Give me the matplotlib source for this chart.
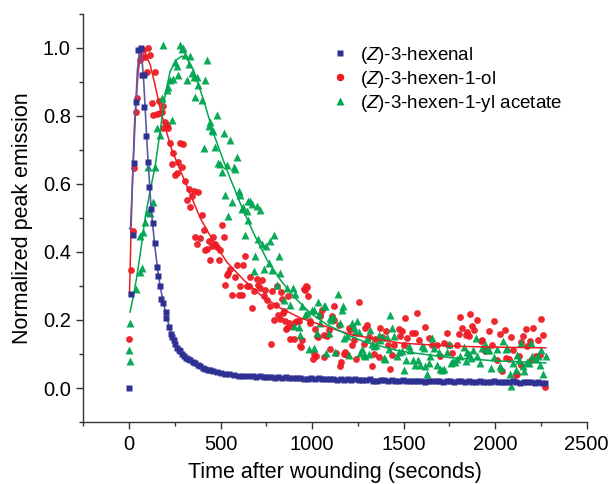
import matplotlib
matplotlib.use("Agg")
import matplotlib.pyplot as plt
from matplotlib.ticker import MultipleLocator
from matplotlib.lines import Line2D

plt.rcParams['font.family'] = ['Liberation Sans', 'DejaVu Sans']
plt.rcParams['mathtext.fontset'] = 'custom'
plt.rcParams['mathtext.it'] = 'Liberation Sans:italic'
plt.rcParams['mathtext.rm'] = 'Liberation Sans'

# ---------------- data ----------------
hex_t = [0, 11, 22, 27, 38, 51, 64, 69, 80, 84, 95, 106, 110, 120, 133, 144, 150, 160, 171, 177,
         188, 199, 204, 217, 228, 236, 243, 252, 263, 271, 279, 290, 300, 312, 323, 334, 347, 361,
         374, 388, 402, 416, 430, 443, 460, 480, 500, 525, 548, 571, 600, 625, 650,
         675, 695, 715, 735, 755, 775, 795, 815, 835, 855, 875, 895, 915, 935, 955, 975, 995,
         1015, 1035, 1055, 1075, 1095, 1115, 1135, 1155, 1175, 1195, 1215, 1235, 1255, 1275, 1295,
         1315, 1335, 1355, 1375, 1395, 1415, 1435, 1455, 1475, 1495, 1515, 1535, 1555, 1575, 1595,
         1615, 1635, 1655, 1675, 1695, 1715, 1735, 1755, 1775, 1795, 1815, 1835, 1855, 1875, 1895,
         1915, 1935, 1955, 1975, 1995, 2015, 2035, 2055, 2075, 2095, 2115, 2135, 2155, 2175, 2195,
         2215, 2235, 2255, 2270]
hex_y = [0.0, 0.276, 0.45, 0.66, 0.84, 0.993, 1.0, 0.92, 0.92, 0.825, 0.74, 0.665, 0.59, 0.525, 0.485,
         0.426, 0.355, 0.328, 0.30, 0.262, 0.25, 0.223, 0.206, 0.18, 0.158, 0.15, 0.142, 0.13, 0.118,
         0.112, 0.108, 0.10, 0.094, 0.089, 0.085, 0.083, 0.077, 0.072, 0.068, 0.064, 0.060, 0.057,
         0.054, 0.052, 0.049, 0.047, 0.045, 0.042, 0.040, 0.038, 0.036, 0.035, 0.035,
         0.034, 0.033, 0.035, 0.032, 0.031, 0.033, 0.030, 0.031, 0.029, 0.031, 0.029, 0.028, 0.030,
         0.029, 0.027, 0.026, 0.028, 0.026, 0.028, 0.026, 0.027, 0.025, 0.026, 0.024, 0.027, 0.024,
         0.025, 0.023, 0.026, 0.024, 0.023, 0.024, 0.026, 0.022, 0.022, 0.024, 0.023, 0.021, 0.023,
         0.022, 0.020, 0.023, 0.022, 0.020, 0.022, 0.021, 0.022, 0.019, 0.021, 0.022, 0.020, 0.021,
         0.019, 0.020, 0.022, 0.018, 0.020, 0.021, 0.019, 0.020, 0.018, 0.019, 0.021, 0.019, 0.017,
         0.019, 0.020, 0.018, 0.019, 0.017, 0.018, 0.020, 0.018, 0.016, 0.018, 0.019, 0.017, 0.016,
         0.018, 0.016, 0.015]

hex_fit_t = [3, 8, 30, 45, 58, 66, 80, 100, 120, 140, 160, 180, 200, 230, 260, 300, 350, 400,
             500, 600, 800, 1200, 1600, 2000, 2270]
hex_fit_y = [0.468, 0.47, 0.75, 0.93, 1.0, 1.0, 0.9, 0.7, 0.53, 0.42, 0.33, 0.27, 0.22, 0.16,
             0.12, 0.095, 0.075, 0.062, 0.045, 0.037, 0.031, 0.026, 0.022, 0.019, 0.017]

ol_t = [0, 11, 24, 27, 38, 46, 60, 69, 78, 87, 97, 106, 115, 124, 133, 142, 155, 166, 170, 179, 184,
        188, 197, 206, 215, 224, 233, 242, 252, 261, 270, 279, 288, 297, 306, 315, 325, 334, 343,
        352, 361, 370, 379, 388, 397, 407, 416, 425, 434, 443, 452, 461, 470, 480, 489, 498, 507,
        516, 525, 534, 543, 552, 562, 580, 589, 598, 607, 616, 625, 634, 644, 653, 662, 671, 680,
        698, 707, 717, 726, 735, 744, 753, 768, 775, 780, 793, 804, 808, 811, 822, 830, 835, 840,
        844, 853, 859, 862, 866, 871, 880, 890, 899, 908, 917, 926, 935, 941, 944, 957, 963, 968,
        972, 976, 987, 990, 1005, 1012, 1017, 1023, 1026, 1030, 1041, 1045, 1054, 1063, 1067,
        1081, 1090, 1099, 1108, 1118, 1121, 1132, 1145, 1151, 1160, 1172, 1182, 1190, 1200, 1209,
        1218, 1231, 1242, 1255, 1282, 1291, 1300, 1309, 1327, 1337, 1346, 1364, 1373, 1382, 1406,
        1413, 1424, 1437, 1446, 1473, 1482, 1491, 1500, 1510, 1519, 1546, 1564, 1573, 1583, 1619,
        1637, 1655, 1683, 1701, 1719, 1738, 1747, 1765, 1792, 1801, 1810, 1820, 1838, 1847, 1856,
        1865, 1874, 1883, 1902, 1920, 1929, 1947, 1956, 1965, 1984, 1993, 2011, 2026, 2038, 2051,
        2057, 2075, 2084, 2099, 2111, 2117, 2130, 2139, 2142, 2153, 2166, 2175, 2190, 2197, 2208,
        2221, 2233, 2244, 2252, 2263, 2270]
ol_y = [0.145, 0.348, 0.46, 0.645, 0.812, 0.851, 0.965, 0.971, 0.992, 0.973, 0.929, 1.0, 0.978, 0.836,
        0.802, 0.927, 0.805, 0.844, 0.809, 0.812, 0.763, 0.828, 0.782, 0.773, 0.763, 0.721, 0.658,
        0.69, 0.626, 0.633, 0.665, 0.721, 0.65, 0.717, 0.609, 0.553, 0.584, 0.533, 0.565, 0.58,
        0.443, 0.424, 0.577, 0.44, 0.509, 0.465, 0.404, 0.408, 0.431, 0.375, 0.416, 0.445, 0.424,
        0.414, 0.375, 0.404, 0.479, 0.445, 0.304, 0.333, 0.338, 0.35, 0.274, 0.326, 0.362, 0.274,
        0.299, 0.274, 0.362, 0.389, 0.301, 0.299, 0.326, 0.235, 0.284, 0.32, 0.304, 0.294, 0.318,
        0.271, 0.287, 0.258, 0.242, 0.128, 0.284, 0.199, 0.245, 0.301, 0.215, 0.203, 0.281, 0.26,
        0.221, 0.225, 0.196, 0.174, 0.177, 0.269, 0.191, 0.144, 0.183, 0.144, 0.193, 0.196, 0.196,
        0.123, 0.121, 0.142, 0.291, 0.289, 0.299, 0.297, 0.271, 0.196, 0.191, 0.085, 0.101, 0.174,
        0.095, 0.152, 0.15, 0.213, 0.211, 0.228, 0.157, 0.091, 0.152, 0.171, 0.115, 0.211, 0.2,
        0.242, 0.103, 0.186, 0.064, 0.076, 0.101, 0.105, 0.098, 0.176, 0.171, 0.127, 0.14, 0.085,
        0.254, 0.13, 0.176, 0.186, 0.15, 0.066, 0.101, 0.144, 0.091, 0.176, 0.15, 0.167, 0.127,
        0.056, 0.098, 0.125, 0.173, 0.154, 0.167, 0.125, 0.206, 0.147, 0.162, 0.162, 0.22, 0.14,
        0.179, 0.147, 0.125, 0.127, 0.093, 0.132, 0.162, 0.125, 0.103, 0.125, 0.16, 0.209, 0.176,
        0.157, 0.164, 0.154, 0.218, 0.181, 0.171, 0.2, 0.137, 0.14, 0.11, 0.115, 0.167, 0.127,
        0.198, 0.083, 0.16, 0.049, 0.171, 0.088, 0.085, 0.15, 0.113, 0.037, 0.04, 0.095, 0.069,
        0.134, 0.154, 0.173, 0.123, 0.137, 0.081, 0.176, 0.095, 0.14, 0.098, 0.203, 0.157, 0.003]

ol_fit_t = [2, 15, 30, 50, 65, 78, 95, 115, 142, 170, 206, 233, 279, 334, 388, 461, 534, 625, 717,
            826, 935, 1045, 1154, 1209, 1483, 1756, 2000, 2276]
ol_fit_y = [0.27, 0.55, 0.78, 0.93, 0.985, 1.0, 0.975, 0.95, 0.89, 0.82, 0.75, 0.70, 0.64, 0.57,
            0.50, 0.43, 0.37, 0.318, 0.274, 0.235, 0.206, 0.186, 0.167, 0.157, 0.132, 0.123,
            0.12, 0.118]

ac_t = [0, 3, 6, 36, 57, 60, 69, 78, 87, 106, 106, 115, 133, 142, 151, 170, 179, 188, 206, 215,
        224, 233, 242, 252, 261, 270, 279, 288, 297, 306, 315, 325, 334, 343, 352, 361, 370, 379,
        397, 407, 416, 425, 434, 443, 452, 461, 470, 480, 488, 498, 507, 516, 525, 534, 543, 552,
        562, 571, 580, 589, 598, 607, 616, 625, 635, 643, 647, 652, 662, 671, 680, 689, 698, 707,
        717, 726, 735, 749, 762, 771, 780, 789, 808, 817, 826, 848, 862, 880, 895, 899, 908, 926,
        935, 944, 963, 972, 981, 999, 1008, 1012, 1026, 1030, 1036, 1045, 1067, 1072, 1078, 1090,
        1099, 1103, 1114, 1127, 1141, 1154, 1163, 1169, 1176, 1191, 1200, 1218, 1227, 1236, 1245,
        1255, 1264, 1273, 1282, 1291, 1300, 1309, 1318, 1327, 1340, 1351, 1364, 1373, 1382, 1391,
        1400, 1409, 1418, 1428, 1437, 1446, 1464, 1473, 1491, 1500, 1515, 1528, 1537, 1552, 1564,
        1577, 1588, 1601, 1610, 1619, 1628, 1637, 1646, 1655, 1665, 1683, 1692, 1701, 1710, 1719,
        1738, 1747, 1759, 1770, 1778, 1792, 1810, 1829, 1838, 1847, 1856, 1869, 1880, 1893, 1902,
        1916, 1929, 1942, 1953, 1965, 1978, 1993, 2011, 2026, 2033, 2044, 2057, 2066, 2080, 2088,
        2099, 2111, 2120, 2130, 2142, 2153, 2160, 2172, 2184, 2193, 2202, 2221, 2233, 2244, 2252,
        2263, 2275]
ac_y = [0.113, 0.08, 0.19, 0.291, 0.34, 0.447, 0.353, 0.457, 0.489, 0.516, 0.648, 0.514, 0.545,
        0.648, 0.763, 0.743, 0.851, 1.007, 0.875, 0.885, 0.906, 0.787, 0.909, 0.958, 0.945, 0.919,
        1.007, 0.997, 1.0, 0.978, 0.904, 0.953, 0.975, 0.924, 0.914, 0.856, 0.914, 0.89, 0.846,
        0.704, 0.906, 0.963, 0.77, 0.782, 0.758, 0.756, 0.707, 0.802, 0.662, 0.658, 0.636, 0.75,
        0.567, 0.655, 0.506, 0.73, 0.545, 0.65, 0.643, 0.678, 0.58, 0.567, 0.525, 0.533, 0.45,
        0.521, 0.494, 0.548, 0.55, 0.541, 0.343, 0.389, 0.535, 0.437, 0.523, 0.424, 0.35, 0.418,
        0.367, 0.431, 0.348, 0.45, 0.303, 0.387, 0.338, 0.258, 0.294, 0.245, 0.294, 0.183, 0.277,
        0.18, 0.157, 0.24, 0.215, 0.22, 0.115, 0.228, 0.23, 0.118, 0.162, 0.252, 0.216, 0.191,
        0.24, 0.24, 0.103, 0.162, 0.206, 0.199, 0.209, 0.105, 0.277, 0.191, 0.23, 0.24, 0.147,
        0.152, 0.098, 0.191, 0.179, 0.164, 0.196, 0.164, 0.103, 0.115, 0.098, 0.093, 0.147, 0.101,
        0.17, 0.13, 0.123, 0.127, 0.157, 0.14, 0.15, 0.088, 0.085, 0.15, 0.115, 0.215, 0.176,
        0.152, 0.093, 0.105, 0.108, 0.052, 0.083, 0.123, 0.111, 0.083, 0.069, 0.083, 0.069, 0.123,
        0.118, 0.064, 0.04, 0.072, 0.093, 0.147, 0.118, 0.069, 0.105, 0.056, 0.052, 0.056, 0.105,
        0.13, 0.074, 0.079, 0.076, 0.085, 0.093, 0.121, 0.079, 0.105, 0.101, 0.088, 0.111, 0.147,
        0.093, 0.072, 0.118, 0.13, 0.111, 0.113, 0.059, 0.091, 0.115, 0.066, 0.059, 0.137, 0.115,
        0.118, 0.042, 0.005, 0.072, 0.054, 0.098, 0.083, 0.132, 0.064, 0.049, 0.076, 0.072, 0.132,
        0.095, 0.085, 0.095, 0.069, 0.111, 0.042, 0.093]

ac_fit_t = [5, 20, 40, 60, 88, 115, 142, 170, 197, 224, 261, 288, 315, 352, 407, 461, 534, 607,
            680, 753, 826, 899, 990, 1081, 1154, 1209, 1300, 1483, 1756, 2000, 2276]
ac_fit_y = [0.223, 0.26, 0.32, 0.39, 0.50, 0.58, 0.65, 0.755, 0.86, 0.93, 0.965, 0.975, 0.968,
            0.934, 0.846, 0.748, 0.641, 0.543, 0.455, 0.377, 0.318, 0.269, 0.22, 0.186, 0.167,
            0.152, 0.133, 0.108, 0.089, 0.08, 0.074]

labels = [r'($\mathit{Z}$)-3-hexenal', r'($\mathit{Z}$)-3-hexen-1-ol',
          r'($\mathit{Z}$)-3-hexen-1-yl acetate']
x_ticks = [0, 500, 1000, 1500, 2000, 2500]
y_ticks = [0.0, 0.2, 0.4, 0.6, 0.8, 1.0]

c_blue = '#2e3192'
c_red = '#ed1c24'
c_green = '#00a651'

# ---------------- figure ----------------
fig = plt.figure(figsize=(6.09, 4.84), dpi=100)
ax = fig.add_axes([0.1368, 0.128, 0.9634 - 0.1368, 0.972 - 0.128])

ax.plot(ol_t, ol_y, 'o', ms=4.9, mfc=c_red, mec='none', alpha=0.95, zorder=2)
ax.plot(ac_t, ac_y, '^', ms=5.4, mfc=c_green, mec='none', alpha=0.95, zorder=2)
ax.plot(ol_fit_t, ol_fit_y, '-', color=c_red, lw=1.1, zorder=3)
ax.plot(ac_fit_t, ac_fit_y, '-', color=c_green, lw=1.1, zorder=3)
ax.plot(hex_fit_t, hex_fit_y, '-', color='#5a5aa8', lw=1.2, zorder=3)
ax.plot(hex_t, hex_y, 's', ms=4.4, mfc=c_blue, mec='none', zorder=4)

ax.set_xlim(-250, 2500)
ax.set_ylim(-0.1, 1.1)
ax.set_xticks(x_ticks)
ax.set_yticks(y_ticks)
ax.set_yticklabels([f'{v:.1f}' for v in y_ticks])
ax.xaxis.set_minor_locator(MultipleLocator(250))
ax.yaxis.set_minor_locator(MultipleLocator(0.1))
ax.tick_params(which='major', direction='out', length=5, width=1, labelsize=14.5, pad=4, color='#333333')
ax.tick_params(which='minor', direction='out', length=3, width=1, color='#333333')
for s in ['top', 'right']:
    ax.spines[s].set_visible(False)
for s in ['left', 'bottom']:
    ax.spines[s].set_color('#333333')
    ax.spines[s].set_linewidth(1)

ax.set_xlabel('Time after wounding (seconds)', fontsize=15.5, labelpad=6)
ax.set_ylabel('Normalized peak emission', fontsize=15.5, labelpad=7)

handles = [Line2D([], [], ls='none', marker='s', ms=4.8, mfc=c_blue, mec='none'),
           Line2D([], [], ls='none', marker='o', ms=5.4, mfc=c_red, mec='none'),
           Line2D([], [], ls='none', marker='^', ms=5.8, mfc=c_green, mec='none')]
fig.legend(handles, labels, loc='upper left', bbox_to_anchor=(331 / 609, 1 - 45 / 484),
           frameon=False, fontsize=13.5, handlelength=1.0, handletextpad=0.55,
           labelspacing=0.15, borderpad=0, borderaxespad=0, numpoints=1)

fig.savefig('out.png', dpi=100)
